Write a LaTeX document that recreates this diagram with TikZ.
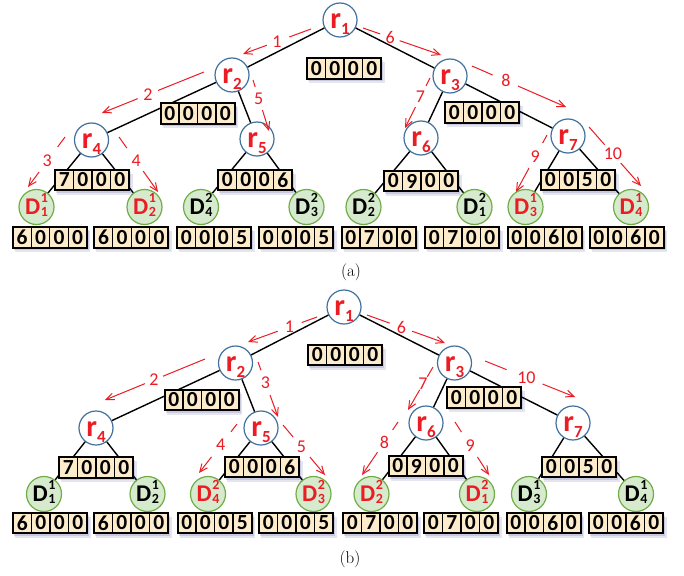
\documentclass[tikz,border=0pt]{standalone}
\usepackage{fontspec}
\newfontfamily\cf{Carlito}
\usetikzlibrary{calc,arrows.meta}
\definecolor{nred}{RGB}{236,28,36}
\definecolor{nblue}{RGB}{65,113,156}
\definecolor{lgreen}{RGB}{214,234,206}
\definecolor{dgreen}{RGB}{112,173,71}
\definecolor{boxfill}{RGB}{253,236,204}
\newcommand\rlab[1]{{\cf\bfseries\fontsize{30}{30}\selectfont r\raisebox{-6pt}{\fontsize{17}{17}\selectfont #1}}}
\newcommand\dlab[2]{{\cf\bfseries\fontsize{24}{24}\selectfont D\kern0.5pt\rlap{\raisebox{12pt}{\fontsize{14}{14}\selectfont #1}}\raisebox{-2pt}{\fontsize{14}{14}\selectfont #2}}}
\tikzset{
  inode/.style={circle, draw=nblue, line width=1.2pt, fill=white, minimum size=34pt, inner sep=0pt},
  leaf/.style={circle, draw=dgreen, line width=1.2pt, fill=lgreen, minimum size=35pt, inner sep=0pt},
  tedge/.style={line width=1.4pt, draw=black},
  rtxt/.style={text=nred, yshift=-4pt, inner sep=0pt},
  dtxt/.style={yshift=2pt, inner sep=0pt},
  cell/.style={rectangle, draw=black, line width=1.3pt, fill=boxfill, minimum width=18.5pt, minimum height=20.5pt, inner sep=0pt, font=\cf\bfseries\fontsize{21.5}{21.5}\selectfont},
  boxframe/.style={rectangle, draw=black, line width=2pt, minimum width=74pt, minimum height=20.5pt, inner sep=0pt},
  rline/.style={draw=nred, line width=1pt},
  rlabel/.style={text=nred, font=\cf\fontsize{18}{18}\selectfont, inner sep=0pt},
  captxt/.style={font=\fontsize{17}{17}\selectfont, inner sep=0pt}
}
\newcommand\valbox[3]{%
  \fill[black!60!blue, opacity=0.10] ($(#2)+(-35,-6.5)$) rectangle ($(#2)+(40.5,14.5)$);
  \fill[black!60!blue, opacity=0.12] ($(#2)+(-36,-8)$) rectangle ($(#2)+(39,12.5)$);
  \foreach \dd [count=\ii] in {#3} {
    \node[cell] at ($(#2)+(\ii*18.5-46.25,0)$) {\dd};
  }
  \node[boxframe] (#1) at (#2) {};
}
\newcommand\rarr[6]{%
  \draw[rline] (#1) -- ($(#1)!#4!(#2)$);
  \draw[rline,-{Straight Barb[length=8pt,width=7pt]}] ($(#1)!#5!(#2)$) -- (#2);
  \node[rlabel] (#1-lab) at ($(#1)!#6!(#2)$) {#3};
}
\begin{document}
\begin{tikzpicture}[x=1pt,y=-1pt]
\useasboundingbox (0,0) rectangle (684,575);
\fill[white] (0,0) rectangle (684,575);

% ================= (a) =================
\node[inode] (ar1) at (340,20) {};
\node[inode] (ar2) at (232,75) {};
\node[inode] (ar3) at (450,76) {};
\node[inode] (ar4) at (91.5,140) {};
\node[inode] (ar5) at (257,139) {};
\node[inode] (ar6) at (421,138) {};
\node[inode] (ar7) at (568,136) {};
\node[leaf] (ad11) at (36.5,207) {};
\node[leaf] (ad21) at (144.5,207) {};
\node[leaf] (ad42) at (201,207) {};
\node[leaf] (ad32) at (306.5,207) {};
\node[leaf] (ad22) at (363.5,207) {};
\node[leaf] (ad12) at (474.5,207) {};
\node[leaf] (ad31) at (525.5,207) {};
\node[leaf] (ad41) at (631,207) {};
\foreach \p/\c in {ar1/ar2,ar1/ar3,ar2/ar4,ar2/ar5,ar3/ar6,ar3/ar7,ar4/ad11,ar4/ad21,ar5/ad42,ar5/ad32,ar6/ad22,ar6/ad12,ar7/ad31,ar7/ad41}
  \draw[tedge] (\p) -- (\c);
\node[rtxt] (ar1t) at (ar1) {\rlab{1}};
\node[rtxt] (ar2t) at (ar2) {\rlab{2}};
\node[rtxt] (ar3t) at (ar3) {\rlab{3}};
\node[rtxt] (ar4t) at (ar4) {\rlab{4}};
\node[rtxt] (ar5t) at (ar5) {\rlab{5}};
\node[rtxt] (ar6t) at (ar6) {\rlab{6}};
\node[rtxt] (ar7t) at (ar7) {\rlab{7}};
\node[dtxt,text=nred] (ad11t) at (ad11) {\dlab{1}{1}};
\node[dtxt,text=nred] (ad21t) at (ad21) {\dlab{1}{2}};
\node[dtxt,text=black] (ad42t) at (ad42) {\dlab{2}{4}};
\node[dtxt,text=black] (ad32t) at (ad32) {\dlab{2}{3}};
\node[dtxt,text=black] (ad22t) at (ad22) {\dlab{2}{2}};
\node[dtxt,text=black] (ad12t) at (ad12) {\dlab{2}{1}};
\node[dtxt,text=nred] (ad31t) at (ad31) {\dlab{1}{3}};
\node[dtxt,text=nred] (ad41t) at (ad41) {\dlab{1}{4}};

\valbox{abr1}{344,68.5}{0,0,0,0}
\valbox{abr2}{197.5,113.5}{0,0,0,0}
\valbox{abr3}{482,112.5}{0,0,0,0}
\valbox{abr4}{92,180}{7,0,0,0}
\valbox{abr5}{255,180}{0,0,0,6}
\valbox{abr6}{421,181}{0,9,0,0}
\valbox{abr7}{578,180}{0,0,5,0}
\valbox{abl1}{49.8,237.5}{6,0,0,0}
\valbox{abl2}{131.3,237.5}{6,0,0,0}
\valbox{abl3}{214,237.5}{0,0,0,5}
\valbox{abl4}{296,237.5}{0,0,0,5}
\valbox{abl5}{378.5,237.5}{0,7,0,0}
\valbox{abl6}{462,237.5}{0,7,0,0}
\valbox{abl7}{544.5,237.5}{0,0,6,0}
\valbox{abl8}{626.5,237.5}{0,0,6,0}

\coordinate (a1s) at (311,29);  \coordinate (a1e) at (243,54);
\coordinate (a2s) at (204,72);  \coordinate (a2e) at (102,113);
\coordinate (a3s) at (65,137);  \coordinate (a3e) at (28,187);
\coordinate (a4s) at (119,137); \coordinate (a4e) at (158,192);
\coordinate (a5s) at (253,80);  \coordinate (a5e) at (269,131);
\coordinate (a6s) at (363,28);  \coordinate (a6e) at (441,55);
\coordinate (a7s) at (430,78);  \coordinate (a7e) at (405,128);
\coordinate (a8s) at (472,66);  \coordinate (a8e) at (566,107);
\coordinate (a9s) at (547,135); \coordinate (a9e) at (516,192);
\coordinate (a10s) at (589,127); \coordinate (a10e) at (641,186);
\rarr{a1s}{a1e}{1}{0.32}{0.65}{0.5}
\rarr{a2s}{a2e}{2}{0.45}{0.65}{0.55}
\rarr{a3s}{a3e}{3}{0.2}{0.7}{0.48}
\rarr{a4s}{a4e}{4}{0.2}{0.62}{0.44}
\rarr{a5s}{a5e}{5}{0.14}{0.59}{0.36}
\rarr{a6s}{a6e}{6}{0.22}{0.47}{0.35}
\rarr{a7s}{a7e}{7}{0.16}{0.58}{0.38}
\rarr{a8s}{a8e}{8}{0.22}{0.49}{0.36}
\rarr{a9s}{a9e}{9}{0.14}{0.58}{0.38}
\rarr{a10s}{a10e}{10}{0.3}{0.61}{0.46}

\node[captxt] (capa) at (351,272) {(a)};

% ================= (b) =================
\node[inode] (br1) at (344,307) {};
\node[inode] (br2) at (235.5,363) {};
\node[inode] (br3) at (454.5,363) {};
\node[inode] (br4) at (96,428) {};
\node[inode] (br5) at (261,428) {};
\node[inode] (br6) at (426,423) {};
\node[inode] (br7) at (573,423) {};
\node[leaf] (bd11) at (44,494) {};
\node[leaf] (bd21) at (147.5,494) {};
\node[leaf] (bd42) at (208,494) {};
\node[leaf] (bd32) at (313.5,494) {};
\node[leaf] (bd22) at (371.5,494) {};
\node[leaf] (bd12) at (477,494) {};
\node[leaf] (bd31) at (529,494) {};
\node[leaf] (bd41) at (636,494) {};
\foreach \p/\c in {br1/br2,br1/br3,br2/br4,br2/br5,br3/br6,br3/br7,br4/bd11,br4/bd21,br5/bd42,br5/bd32,br6/bd22,br6/bd12,br7/bd31,br7/bd41}
  \draw[tedge] (\p) -- (\c);
\node[rtxt] (br1t) at (br1) {\rlab{1}};
\node[rtxt] (br2t) at (br2) {\rlab{2}};
\node[rtxt] (br3t) at (br3) {\rlab{3}};
\node[rtxt] (br4t) at (br4) {\rlab{4}};
\node[rtxt] (br5t) at (br5) {\rlab{5}};
\node[rtxt] (br6t) at (br6) {\rlab{6}};
\node[rtxt] (br7t) at (br7) {\rlab{7}};
\node[dtxt,text=black] (bd11t) at (bd11) {\dlab{1}{1}};
\node[dtxt,text=black] (bd21t) at (bd21) {\dlab{1}{2}};
\node[dtxt,text=nred] (bd42t) at (bd42) {\dlab{2}{4}};
\node[dtxt,text=nred] (bd32t) at (bd32) {\dlab{2}{3}};
\node[dtxt,text=nred] (bd22t) at (bd22) {\dlab{2}{2}};
\node[dtxt,text=nred] (bd12t) at (bd12) {\dlab{2}{1}};
\node[dtxt,text=black] (bd31t) at (bd31) {\dlab{1}{3}};
\node[dtxt,text=black] (bd41t) at (bd41) {\dlab{1}{4}};

\valbox{bbr1}{345,355}{0,0,0,0}
\valbox{bbr2}{201.5,400}{0,0,0,0}
\valbox{bbr3}{484,397.5}{0,0,0,0}
\valbox{bbr4}{96,467.5}{7,0,0,0}
\valbox{bbr5}{262,467}{0,0,0,6}
\valbox{bbr6}{425.5,466}{0,9,0,0}
\valbox{bbr7}{579,467}{0,0,5,0}
\valbox{bbl1}{50,523}{6,0,0,0}
\valbox{bbl2}{131,523}{6,0,0,0}
\valbox{bbl3}{214.5,523}{0,0,0,5}
\valbox{bbl4}{296,523}{0,0,0,5}
\valbox{bbl5}{380,523}{0,7,0,0}
\valbox{bbl6}{461,523}{0,7,0,0}
\valbox{bbl7}{543.5,523}{0,0,6,0}
\valbox{bbl8}{626,523}{0,0,6,0}

\coordinate (b1s) at (317,317);  \coordinate (b1e) at (248,342);
\coordinate (b2s) at (205,359);  \coordinate (b2e) at (105,400);
\coordinate (b3s) at (258,362);  \coordinate (b3e) at (278,417);
\coordinate (b4s) at (237,424);  \coordinate (b4e) at (199,473);
\coordinate (b5s) at (283,425);  \coordinate (b5e) at (325,475);
\coordinate (b6s) at (367,315);  \coordinate (b6e) at (445,343);
\coordinate (b7s) at (433,367);  \coordinate (b7e) at (408,410);
\coordinate (b8s) at (398,422);  \coordinate (b8e) at (362,475);
\coordinate (b9s) at (455,422);  \coordinate (b9e) at (489,475);
\coordinate (b10s) at (485,361); \coordinate (b10e) at (575,397);
\rarr{b1s}{b1e}{1}{0.22}{0.57}{0.4}
\rarr{b2s}{b2e}{2}{0.42}{0.6}{0.51}
\rarr{b3s}{b3e}{3}{0.15}{0.6}{0.37}
\rarr{b4s}{b4e}{4}{0.16}{0.67}{0.43}
\rarr{b5s}{b5e}{5}{0.24}{0.64}{0.44}
\rarr{b6s}{b6e}{6}{0.29}{0.58}{0.44}
\rarr{b7s}{b7e}{7}{0.23}{0.53}{0.4}
\rarr{b8s}{b8e}{8}{0.15}{0.57}{0.38}
\rarr{b9s}{b9e}{9}{0.19}{0.66}{0.45}
\rarr{b10s}{b10e}{10}{0.24}{0.64}{0.46}

\node[captxt] (capb) at (350,559) {(b)};
\end{tikzpicture}
\end{document}
